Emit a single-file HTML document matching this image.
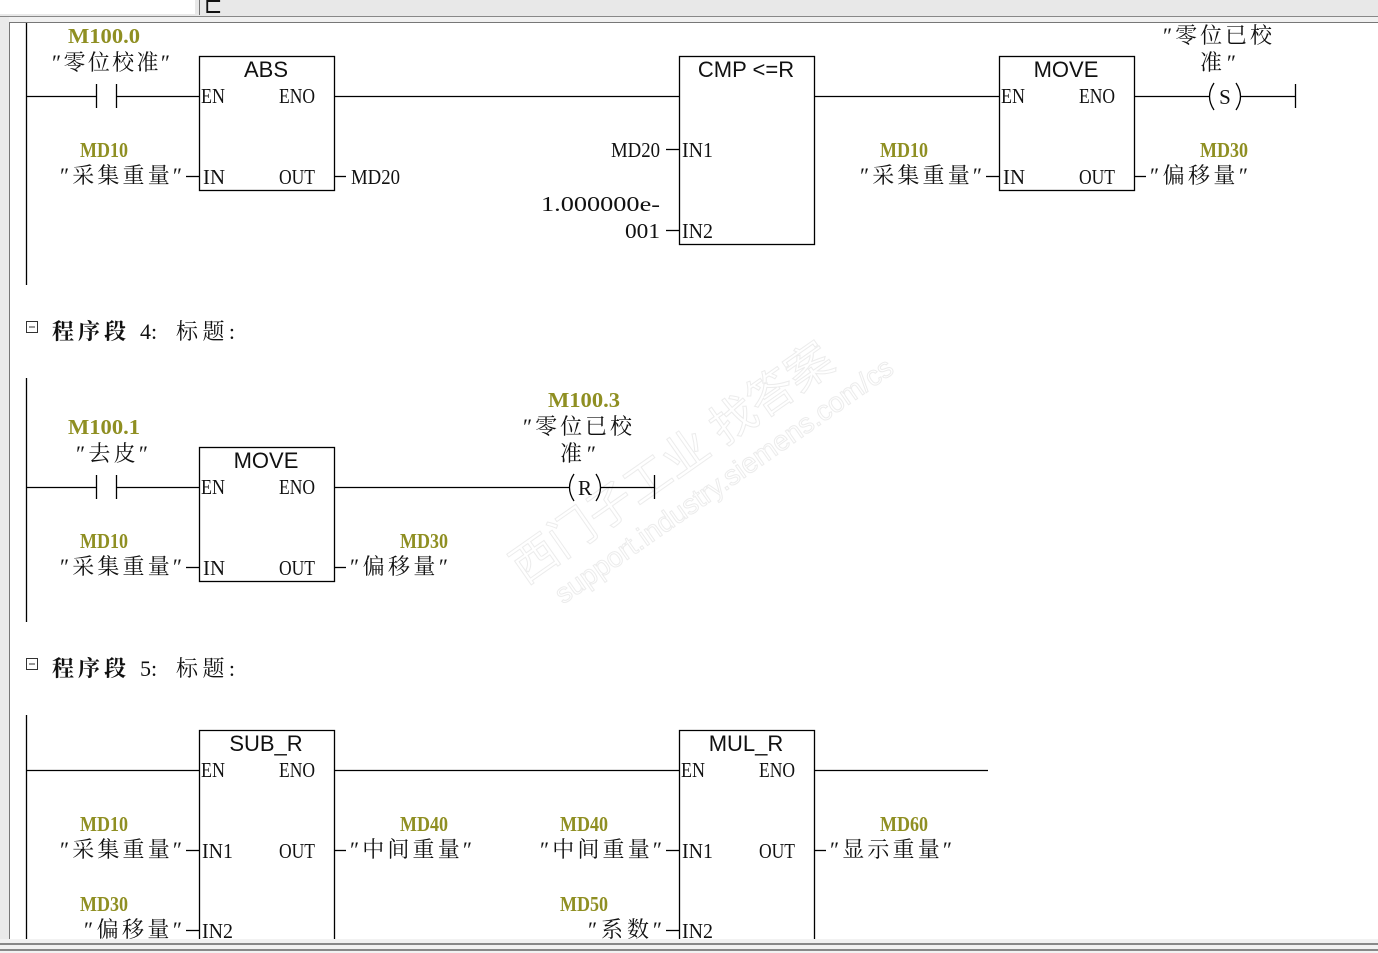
<!DOCTYPE html>
<html><head><meta charset="utf-8">
<style>
html,body{margin:0;padding:0;background:#fff;width:1378px;height:953px;overflow:hidden}
svg{display:block}
.p{font-family:"Liberation Serif","Noto Serif CJK SC",serif;font-size:21px;fill:#111}
.c{font-family:"Liberation Serif","Noto Serif CJK SC",serif;font-size:22px;fill:#111}
.o{font-family:"Liberation Serif","Noto Serif CJK SC",serif;font-size:21px;font-weight:bold;fill:#8f8f22}
.t{font-family:"Liberation Sans",sans-serif;font-size:22px;fill:#111}
.h{font-family:"Liberation Serif","Noto Serif CJK SC",serif;font-size:22px;fill:#111}
.w{font-family:"Liberation Sans","Noto Sans CJK SC",sans-serif;fill:none;stroke:#ececec;stroke-width:1}
</style></head><body>
<svg width="1378" height="953" xmlns="http://www.w3.org/2000/svg">
<rect x="0" y="0" width="1378" height="17" fill="#e8e8e8"/>
<rect x="0" y="0" width="195" height="14" fill="#fff"/>
<line x1="199.5" y1="0" x2="199.5" y2="15" stroke="#777"/>
<text x="204" y="13" class="c" font-size="16">⊏</text>
<line x1="0" y1="16.5" x2="1378" y2="16.5" stroke="#888" stroke-width="1"/>
<rect x="0" y="17" width="1378" height="5" fill="#f0f0f0"/>
<line x1="9" y1="22.5" x2="1378" y2="22.5" stroke="#777"/>
<rect x="0" y="17" width="9" height="923" fill="#eaeaea"/>
<line x1="9.5" y1="22" x2="9.5" y2="940" stroke="#777"/>
<rect x="0" y="939" width="1378" height="14" fill="#f2f2f2"/>
<line x1="0" y1="944" x2="1378" y2="944" stroke="#888" stroke-width="2"/>
<line x1="0" y1="950" x2="1378" y2="950" stroke="#888" stroke-width="2"/>

<g transform="translate(525,585) rotate(-35)">
<text class="w" x="0" y="0" font-size="46">西门子工业  找答案</text>
<text class="w" x="20" y="38" font-size="28">support.industry.siemens.com/cs</text>
</g>

<g stroke="#000" stroke-width="1.3" fill="none">
<line x1="26.5" y1="23" x2="26.5" y2="285"/>
<line x1="26.5" y1="378" x2="26.5" y2="622"/>
<line x1="26.5" y1="715" x2="26.5" y2="939"/>
<line x1="26" y1="96.5" x2="96" y2="96.5"/>
<line x1="96.5" y1="84" x2="96.5" y2="108"/>
<line x1="116.5" y1="84" x2="116.5" y2="108"/>
<line x1="116" y1="96.5" x2="199" y2="96.5"/>
<rect x="199.5" y="56.5" width="135" height="134"/>
<line x1="334" y1="96.5" x2="679" y2="96.5"/>
<line x1="186" y1="176.5" x2="199" y2="176.5"/>
<line x1="334" y1="176.5" x2="346" y2="176.5"/>
<rect x="679.5" y="56.5" width="135" height="188"/>
<line x1="666" y1="149.5" x2="679" y2="149.5"/>
<line x1="666" y1="230.5" x2="679" y2="230.5"/>
<line x1="814" y1="96.5" x2="999" y2="96.5"/>
<rect x="999.5" y="56.5" width="135" height="134"/>
<line x1="986" y1="176.5" x2="999" y2="176.5"/>
<line x1="1134" y1="176.5" x2="1146" y2="176.5"/>
<line x1="1134" y1="96.5" x2="1210" y2="96.5"/>
<path d="M1214 83 Q1205 96.5 1214 110"/>
<path d="M1236 83 Q1245 96.5 1236 110"/>
<line x1="1240" y1="96.5" x2="1295" y2="96.5"/>
<line x1="1295.5" y1="84" x2="1295.5" y2="108"/>
<line x1="26" y1="487.5" x2="96" y2="487.5"/>
<line x1="96.5" y1="475" x2="96.5" y2="499"/>
<line x1="116.5" y1="475" x2="116.5" y2="499"/>
<line x1="116" y1="487.5" x2="199" y2="487.5"/>
<rect x="199.5" y="447.5" width="135" height="134"/>
<line x1="186" y1="567.5" x2="199" y2="567.5"/>
<line x1="334" y1="567.5" x2="346" y2="567.5"/>
<line x1="334" y1="487.5" x2="570" y2="487.5"/>
<path d="M574 474 Q565 487.5 574 501"/>
<path d="M596 474 Q605 487.5 596 501"/>
<line x1="600" y1="487.5" x2="654" y2="487.5"/>
<line x1="654.5" y1="475" x2="654.5" y2="499"/>
<line x1="26" y1="770.5" x2="199" y2="770.5"/>
<path d="M199.5 939 V730.5 H334.5 V939"/>
<line x1="186" y1="850.5" x2="199" y2="850.5"/>
<line x1="186" y1="930.5" x2="199" y2="930.5"/>
<line x1="334" y1="850.5" x2="346" y2="850.5"/>
<line x1="334" y1="770.5" x2="679" y2="770.5"/>
<path d="M679.5 939 V730.5 H814.5 V939"/>
<line x1="666" y1="850.5" x2="679" y2="850.5"/>
<line x1="666" y1="930.5" x2="679" y2="930.5"/>
<line x1="814" y1="850.5" x2="826" y2="850.5"/>
<line x1="814" y1="770.5" x2="988" y2="770.5"/>
</g>

<!-- Network 3 -->
<text class="o" x="68" y="43" textLength="72" lengthAdjust="spacingAndGlyphs">M100.0</text>
<text class="c" x="52" y="70" textLength="118">″零位校准″</text>
<text class="t" x="266" y="77" text-anchor="middle">ABS</text>
<text class="p" x="201" y="103" textLength="24" lengthAdjust="spacingAndGlyphs">EN</text>
<text class="p" x="279" y="103" textLength="36" lengthAdjust="spacingAndGlyphs">ENO</text>
<text class="o" x="80" y="157" textLength="48" lengthAdjust="spacingAndGlyphs">MD10</text>
<text class="c" x="60" y="183" textLength="122">″采集重量″</text>
<text class="p" x="203" y="184" textLength="22" lengthAdjust="spacingAndGlyphs">IN</text>
<text class="p" x="279" y="184" textLength="36" lengthAdjust="spacingAndGlyphs">OUT</text>
<text class="p" x="351" y="184" textLength="49" lengthAdjust="spacingAndGlyphs">MD20</text>
<text class="t" x="746" y="77" text-anchor="middle">CMP &lt;=R</text>
<text class="p" x="611" y="157" textLength="49" lengthAdjust="spacingAndGlyphs">MD20</text>
<text class="p" x="682" y="157" textLength="31" lengthAdjust="spacingAndGlyphs">IN1</text>
<text class="p" x="541" y="211" textLength="119" lengthAdjust="spacingAndGlyphs">1.000000e-</text>
<text class="p" x="625" y="238" textLength="35" lengthAdjust="spacingAndGlyphs">001</text>
<text class="p" x="682" y="238" textLength="31" lengthAdjust="spacingAndGlyphs">IN2</text>
<text class="t" x="1066" y="77" text-anchor="middle">MOVE</text>
<text class="p" x="1001" y="103" textLength="24" lengthAdjust="spacingAndGlyphs">EN</text>
<text class="p" x="1079" y="103" textLength="36" lengthAdjust="spacingAndGlyphs">ENO</text>
<text class="o" x="880" y="157" textLength="48" lengthAdjust="spacingAndGlyphs">MD10</text>
<text class="c" x="860" y="183" textLength="122">″采集重量″</text>
<text class="p" x="1003" y="184" textLength="22" lengthAdjust="spacingAndGlyphs">IN</text>
<text class="p" x="1079" y="184" textLength="36" lengthAdjust="spacingAndGlyphs">OUT</text>
<text class="c" x="1163" y="43" textLength="109">″零位已校</text>
<text class="c" x="1200" y="70" textLength="36">准″</text>
<text class="p" x="1225" y="104" text-anchor="middle">S</text>
<text class="o" x="1200" y="157" textLength="48" lengthAdjust="spacingAndGlyphs">MD30</text>
<text class="c" x="1150" y="183" textLength="98">″偏移量″</text>

<rect x="26.5" y="321.5" width="11" height="11" fill="none" stroke="#333"/>
<line x1="29" y1="327" x2="35" y2="327" stroke="#333"/>
<text class="h" x="52" y="339" font-weight="bold" textLength="74">程序段</text>
<text class="h" x="140" y="339">4:</text>
<text class="h" x="176" y="339" textLength="59">标题:</text>

<!-- Network 4 -->
<text class="o" x="68" y="434" textLength="72" lengthAdjust="spacingAndGlyphs">M100.1</text>
<text class="c" x="76" y="461" textLength="72">″去皮″</text>
<text class="t" x="266" y="468" text-anchor="middle">MOVE</text>
<text class="p" x="201" y="494" textLength="24" lengthAdjust="spacingAndGlyphs">EN</text>
<text class="p" x="279" y="494" textLength="36" lengthAdjust="spacingAndGlyphs">ENO</text>
<text class="o" x="80" y="548" textLength="48" lengthAdjust="spacingAndGlyphs">MD10</text>
<text class="c" x="60" y="574" textLength="122">″采集重量″</text>
<text class="p" x="203" y="575" textLength="22" lengthAdjust="spacingAndGlyphs">IN</text>
<text class="p" x="279" y="575" textLength="36" lengthAdjust="spacingAndGlyphs">OUT</text>
<text class="o" x="400" y="548" textLength="48" lengthAdjust="spacingAndGlyphs">MD30</text>
<text class="c" x="350" y="574" textLength="98">″偏移量″</text>
<text class="o" x="548" y="407" textLength="72" lengthAdjust="spacingAndGlyphs">M100.3</text>
<text class="c" x="523" y="434" textLength="109">″零位已校</text>
<text class="c" x="560" y="461" textLength="36">准″</text>
<text class="p" x="585" y="495" text-anchor="middle">R</text>

<rect x="26.5" y="658.5" width="11" height="11" fill="none" stroke="#333"/>
<line x1="29" y1="664" x2="35" y2="664" stroke="#333"/>
<text class="h" x="52" y="676" font-weight="bold" textLength="74">程序段</text>
<text class="h" x="140" y="676">5:</text>
<text class="h" x="176" y="676" textLength="59">标题:</text>

<!-- Network 5 -->
<text class="t" x="266" y="751" text-anchor="middle">SUB_R</text>
<text class="p" x="201" y="777" textLength="24" lengthAdjust="spacingAndGlyphs">EN</text>
<text class="p" x="279" y="777" textLength="36" lengthAdjust="spacingAndGlyphs">ENO</text>
<text class="o" x="80" y="831" textLength="48" lengthAdjust="spacingAndGlyphs">MD10</text>
<text class="c" x="60" y="857" textLength="122">″采集重量″</text>
<text class="p" x="202" y="858" textLength="31" lengthAdjust="spacingAndGlyphs">IN1</text>
<text class="p" x="279" y="858" textLength="36" lengthAdjust="spacingAndGlyphs">OUT</text>
<text class="o" x="80" y="911" textLength="48" lengthAdjust="spacingAndGlyphs">MD30</text>
<text class="c" x="84" y="937" textLength="98">″偏移量″</text>
<text class="p" x="202" y="938" textLength="31" lengthAdjust="spacingAndGlyphs">IN2</text>
<text class="o" x="400" y="831" textLength="48" lengthAdjust="spacingAndGlyphs">MD40</text>
<text class="c" x="350" y="857" textLength="122">″中间重量″</text>
<text class="t" x="746" y="751" text-anchor="middle">MUL_R</text>
<text class="p" x="681" y="777" textLength="24" lengthAdjust="spacingAndGlyphs">EN</text>
<text class="p" x="759" y="777" textLength="36" lengthAdjust="spacingAndGlyphs">ENO</text>
<text class="o" x="560" y="831" textLength="48" lengthAdjust="spacingAndGlyphs">MD40</text>
<text class="c" x="540" y="857" textLength="122">″中间重量″</text>
<text class="p" x="682" y="858" textLength="31" lengthAdjust="spacingAndGlyphs">IN1</text>
<text class="p" x="759" y="858" textLength="36" lengthAdjust="spacingAndGlyphs">OUT</text>
<text class="o" x="880" y="831" textLength="48" lengthAdjust="spacingAndGlyphs">MD60</text>
<text class="c" x="830" y="857" textLength="122">″显示重量″</text>
<text class="o" x="560" y="911" textLength="48" lengthAdjust="spacingAndGlyphs">MD50</text>
<text class="c" x="588" y="937" textLength="74">″系数″</text>
<text class="p" x="682" y="938" textLength="31" lengthAdjust="spacingAndGlyphs">IN2</text>
</svg>
</body></html>
